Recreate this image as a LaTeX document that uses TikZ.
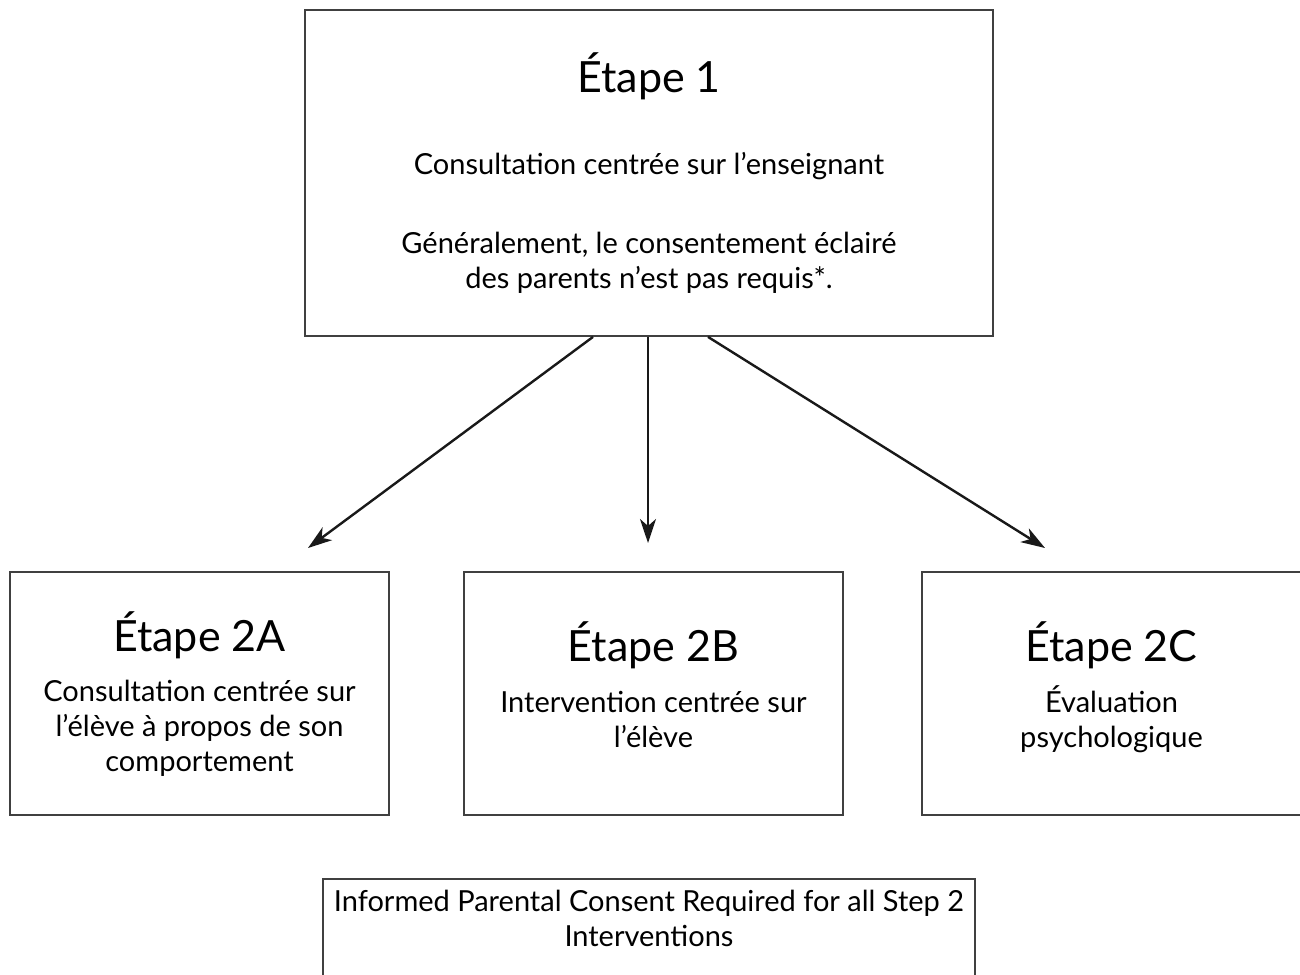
\documentclass[tikz,border=0pt]{standalone}
\usepackage{fontspec}
\setmainfont{Lato}
\usetikzlibrary{arrows.meta, positioning}
\tikzset{
  sbox/.style    = {rectangle, draw=black!75, line width=0.9pt, inner sep=0pt},
  stepbox/.style = {sbox, minimum width=189.5pt, minimum height=121.5pt},
  txt/.style     = {align=center, inner sep=0pt, anchor=north,
                    font=\fontsize{14.5}{17.5}\selectfont},
  arr/.style     = {-{Stealth[length=12pt, width=8pt, inset=3.5pt]},
                    line width=1.2pt, black!90},
}
\newcommand{\etape}[1]{{\fontsize{21.5}{26}\selectfont #1}}

\begin{document}
\begin{tikzpicture}[x=0.5pt, y=-0.5pt]
  \useasboundingbox (0,0) rectangle (1300,974);
  \clip (0,0) rectangle (1300,974);

  % boxes
  \node[sbox, minimum width=344pt, minimum height=163pt] (s1) at (649,173) {};
  \node[stepbox] (s2a) at (199.5,693.5) {};
  \node[stepbox] (s2b) at (653.5,693.5) {};
  \node[stepbox] (s2c) at (1111.5,693.5) {};
  \node[sbox, minimum width=326pt, minimum height=56pt, anchor=north] (note) at (649,878) {};

  % texts
  \node[txt] (t1) at (649,52) {\etape{Étape 1}\\[23.5pt]
    Consultation centrée sur l’enseignant\\[22pt]
    Généralement, le consentement éclairé\\des parents n’est pas requis*.};
  \node[txt] (t2a) at (199.5,611) {\etape{Étape 2A}\\[7.5pt]
    Consultation centrée sur\\l’élève à propos de son\\comportement};
  \node[txt] (t2b) at (653.5,621) {\etape{Étape 2B}\\[8pt]
    Intervention centrée sur\\l’élève};
  \node[txt] (t2c) at (1111.5,621) {\etape{Étape 2C}\\[8pt]
    Évaluation\\psychologique};
  \node[txt] (tnote) at (649,890) {Informed Parental Consent Required for all Step 2\\Interventions};

  % arrows
  \coordinate (tipA) at (308,548);
  \coordinate (tipB) at (648,543);
  \coordinate (tipC) at (1045,548);
  \draw[arr] ([xshift=-28pt]s1.south) -- (tipA);
  \draw[arr] ([xshift=-0.5pt]s1.south) -- (tipB);
  \draw[arr] ([xshift=29.5pt]s1.south) -- (tipC);
\end{tikzpicture}
\end{document}
